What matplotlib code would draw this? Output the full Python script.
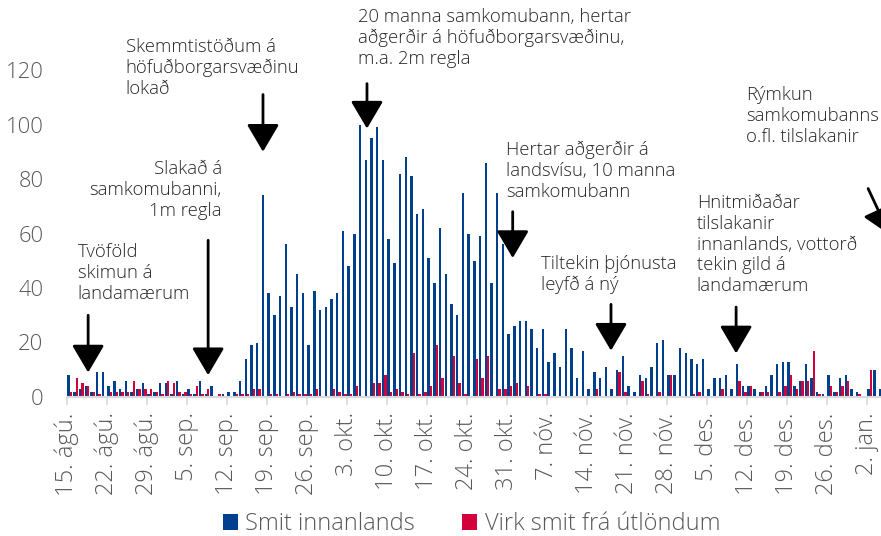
import numpy as np
import matplotlib.pyplot as plt

#daily cases from 15. ágú. onwards
smit_innanlands = [
    8, 2, 3, 4, 2, 9, 9, 4, 6, 3, 6, 2, 3, 5, 1, 2, 5, 5, 1, 6,
    1, 3, 1, 6, 1, 4, 0, 1, 2, 2, 6, 14, 19, 20, 74, 38, 30, 37, 56, 33,
    45, 38, 19, 39, 32, 33, 36, 38, 61, 48, 60, 100, 87, 95, 99, 87, 58, 49, 82, 88,
    81, 67, 69, 51, 42, 62, 45, 34, 30, 75, 60, 50, 59, 86, 42, 75, 56, 23, 26, 28,
    28, 25, 18, 25, 13, 16, 11, 25, 18, 7, 17, 3, 9, 7, 11, 3, 10, 15, 4, 2,
    8, 7, 11, 20, 21, 8, 8, 18, 16, 14, 12, 14, 3, 7, 7, 8, 3, 12, 4, 4,
    3, 2, 4, 8, 12, 13, 13, 4, 6, 12, 7, 2, 1, 8, 2, 7, 8, 3, 2, 0,
    3, 10, 3,
]
virk_smit_utlondum = [
    2, 7, 5, 4, 2, 1, 0, 2, 2, 2, 2, 6, 3, 3, 3, 2, 1, 6, 5, 2,
    2, 1, 4, 1, 3, 0, 1, 0, 0, 1, 1, 1, 3, 3, 0, 1, 1, 0, 1, 2,
    1, 1, 1, 3, 0, 0, 3, 2, 1, 1, 4, 0, 0, 5, 5, 8, 2, 3, 2, 1,
    16, 1, 2, 4, 19, 7, 0, 15, 5, 1, 0, 14, 7, 15, 0, 3, 3, 4, 5, 0,
    4, 0, 1, 1, 0, 0, 0, 0, 0, 0, 0, 0, 3, 0, 0, 0, 9, 2, 0, 0,
    6, 1, 0, 2, 0, 8, 0, 0, 0, 1, 2, 0, 0, 0, 3, 0, 0, 6, 2, 4,
    0, 2, 2, 0, 2, 4, 8, 3, 6, 6, 17, 1, 0, 4, 2, 4, 6, 0, 1, 0,
    10, 0, 0,
]
tick_labels = [
    "15. ágú.", "22. ágú.", "29. ágú.", "5. sep.", "12. sep.", "19. sep.", "26. sep.",
    "3. okt.", "10. okt.", "17. okt.", "24. okt.", "31. okt.", "7. nóv.", "14. nóv.",
    "21. nóv.", "28. nóv.", "5. des.", "12. des.", "19. des.", "26. des.", "2. jan.",
]

#annotations: text, text position (day, value), arrow tail, arrow tip, alignment
notes = [
    ("Tvöföld\nskimun á\nlandamærum", (1.9, 56.5), (3.7, 30), (3.7, 9), "left"),
    ("Slakað á\nsamkomubanni,\n1m regla", (27.1, 87), (24.7, 57.5), (24.7, 8), "right"),
    ("Skemmtistöðum á\nhöfuðborgarsvæðinu\nlokað", (10.3, 131.7), (34.3, 111), (34.3, 90), "left"),
    ("20 manna samkomubann, hertar\naðgerðir á höfuðborgarsvæðinu,\nm.a. 2m regla", (50.9, 142.8), (52.5, 115), (52.5, 98.5), "left"),
    ("Hertar aðgerðir á\nlandsvísu, 10 manna\nsamkomubann", (76.8, 94), (78.0, 68), (78.0, 51), "left"),
    ("Tiltekin þjónusta\nleyfð á ný", (82.9, 52.1), (95.2, 34), (95.2, 17), "left"),
    ("Hnitmiðaðar\ntilslakanir\ninnanlands, vottorð\ntekin gild á\nlandamærum", (110.2, 74.5), (117.1, 33), (117.1, 16), "left"),
    ("Rýmkun\nsamkomubanns\no.fl. tilslakanir", (118.8, 114.1), (140.2, 76.5), (144.0, 59.5), "left"),
]

plt.rcParams['font.family'] = ['Open Sans', 'DejaVu Sans']
plt.rcParams['font.weight'] = 'light'

blue = "#00408c"
red = "#d4003c"
grey_text = "#595959"

fig = plt.figure(figsize=(8.81, 5.36), dpi=100)
ax = fig.add_axes([67 / 881, 139 / 536, (881 - 67) / 881, 327 / 536])

x = np.arange(len(smit_innanlands))
w = 0.42
ax.bar(x + 0.5 - w / 2, smit_innanlands, width=w, color=blue, label="Smit innanlands")
ax.bar(x + 0.5 + w / 2, virk_smit_utlondum, width=w, color=red, label="Virk smit frá útlöndum")

ax.set_xlim(0, (881 - 67) / 5.714)
ax.set_ylim(0, 120)
ax.set_yticks(range(0, 121, 20))
ax.set_xticks(np.arange(0, 7 * len(tick_labels), 7))
ax.set_xticklabels(tick_labels, rotation=90, ha="center", va="top")

for s in ["top", "right", "left"]:
    ax.spines[s].set_visible(False)
ax.spines["bottom"].set_color("#d9d9d9")
ax.spines["bottom"].set_linewidth(1.5)
ax.tick_params(axis="y", length=0, pad=17, labelsize=15.8, labelcolor=grey_text)
ax.tick_params(axis="x", length=6, width=1.2, color="#d9d9d9", pad=5, labelsize=17, labelcolor=grey_text)

#text and arrows for the events
for text, pos, tail, tip, align in notes:
    ax.text(pos[0], pos[1], text, ha=align, va="top", multialignment=align,
            fontsize=13.3, color="#262626", linespacing=1.2, clip_on=False)
    ax.annotate("", xy=tip, xytext=tail, annotation_clip=False,
                arrowprops=dict(arrowstyle="-|>,head_length=0.85,head_width=0.5",
                                mutation_scale=20, lw=2, color="black", shrinkA=0, shrinkB=0))

fig.legend(loc="lower center", bbox_to_anchor=(0.535, -0.04), ncol=2, frameon=False,
           fontsize=17, handlelength=0.65, handleheight=0.65, handletextpad=0.3,
           columnspacing=2.0, labelcolor=grey_text)

plt.savefig("out.png", dpi=100)
